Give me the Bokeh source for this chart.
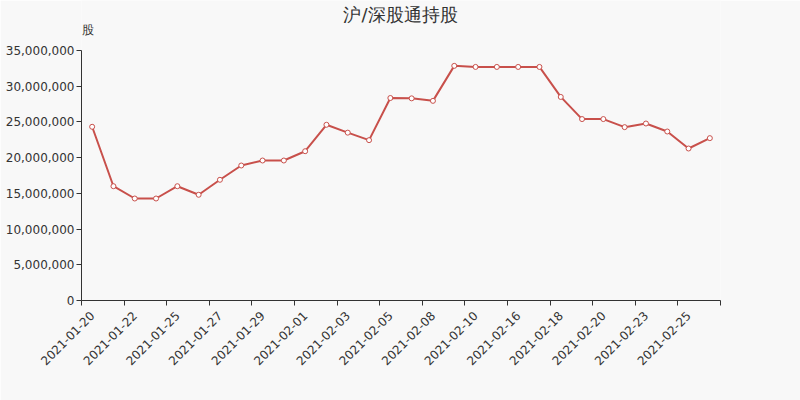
from bokeh.plotting import figure
from bokeh.models import FixedTicker, Range1d, Label, NumeralTickFormatter, ColumnDataSource
from bokeh.embed import file_html
from bokeh.resources import INLINE

title_text = "沪/深股通持股"
y_name = "股"
dates = [
    "2021-01-20", "2021-01-21", "2021-01-22", "2021-01-23", "2021-01-25",
    "2021-01-26", "2021-01-27", "2021-01-28", "2021-01-29", "2021-01-30",
    "2021-02-01", "2021-02-02", "2021-02-03", "2021-02-04", "2021-02-05",
    "2021-02-06", "2021-02-08", "2021-02-09", "2021-02-10", "2021-02-11",
    "2021-02-16", "2021-02-17", "2021-02-18", "2021-02-19", "2021-02-20",
    "2021-02-22", "2021-02-23", "2021-02-24", "2021-02-25", "2021-02-26",
]
holdings = [
    24320000, 16000000, 14280000, 14280000, 16000000,
    14800000, 16900000, 18900000, 19600000, 19600000,
    20900000, 24600000, 23500000, 22450000, 28350000,
    28300000, 27950000, 32850000, 32700000, 32700000,
    32700000, 32700000, 28500000, 25400000, 25400000,
    24270000, 24780000, 23660000, 21280000, 22730000,
]
y_ticks = [0, 5000000, 10000000, 15000000, 20000000, 25000000, 30000000, 35000000]
y_max = 35000000

n = len(dates)
xs = list(range(n))
src = ColumnDataSource(dict(x=xs, y=holdings, d=dates))

BG = "#f8f8f8"
TXT = "#333333"
LINE = "#c8504b"

# frame covers the full height above the x axis (300px); the axis itself stops at y_max
p = figure(width=800, height=400, output_backend="svg", toolbar_location=None,
           x_range=Range1d(-0.5, n - 0.5), y_range=Range1d(0, y_max * 300 / 250),
           min_border_left=81, min_border_right=80, min_border_top=0, min_border_bottom=100,
           background_fill_color=BG, border_fill_color=BG, outline_line_color=None)
p.title.text = ""

# screen units of Label are relative to the frame (origin bottom-left of the frame)
p.add_layout(Label(x=319, y=286, x_units="screen", y_units="screen", text=title_text,
                   text_align="center", text_baseline="middle", text_font="DejaVu Sans",
                   text_font_size="18px", text_color=TXT))
p.add_layout(Label(x=0, y=271, x_units="screen", y_units="screen", text=y_name,
                   text_align="left", text_baseline="middle", text_font="DejaVu Sans",
                   text_font_size="12px", text_color=TXT))

p.grid.visible = False

xa = p.xaxis[0]
xa.ticker = FixedTicker(ticks=xs[::2], minor_ticks=[i - 0.5 for i in range(0, n + 1, 2)])
xa.major_label_overrides = {i: dates[i] for i in xs[::2]}
xa.major_label_orientation = 0.785398
xa.major_tick_in = 0
xa.major_tick_out = 0
xa.minor_tick_in = 0
xa.minor_tick_out = 5
xa.minor_tick_line_color = TXT
xa.major_label_standoff = 8
xa.axis_line_color = TXT
xa.major_label_text_color = TXT
xa.major_label_text_font = "DejaVu Sans"
xa.major_label_text_font_size = "12px"

ya = p.yaxis[0]
ya.ticker = FixedTicker(ticks=y_ticks)
ya.bounds = (0, y_max)
ya.formatter = NumeralTickFormatter(format="0,0")
ya.major_tick_in = 0
ya.major_tick_out = 5
ya.minor_tick_line_color = None
ya.major_label_standoff = 2
ya.axis_line_color = TXT
ya.major_tick_line_color = TXT
ya.major_label_text_color = TXT
ya.major_label_text_font = "DejaVu Sans"
ya.major_label_text_font_size = "12px"

p.line("x", "y", source=src, line_color=LINE, line_width=2)
p.scatter("x", "y", source=src, size=5, fill_color="white", line_color=LINE, line_width=1)

open("out.html", "w").write(file_html(p, INLINE))
